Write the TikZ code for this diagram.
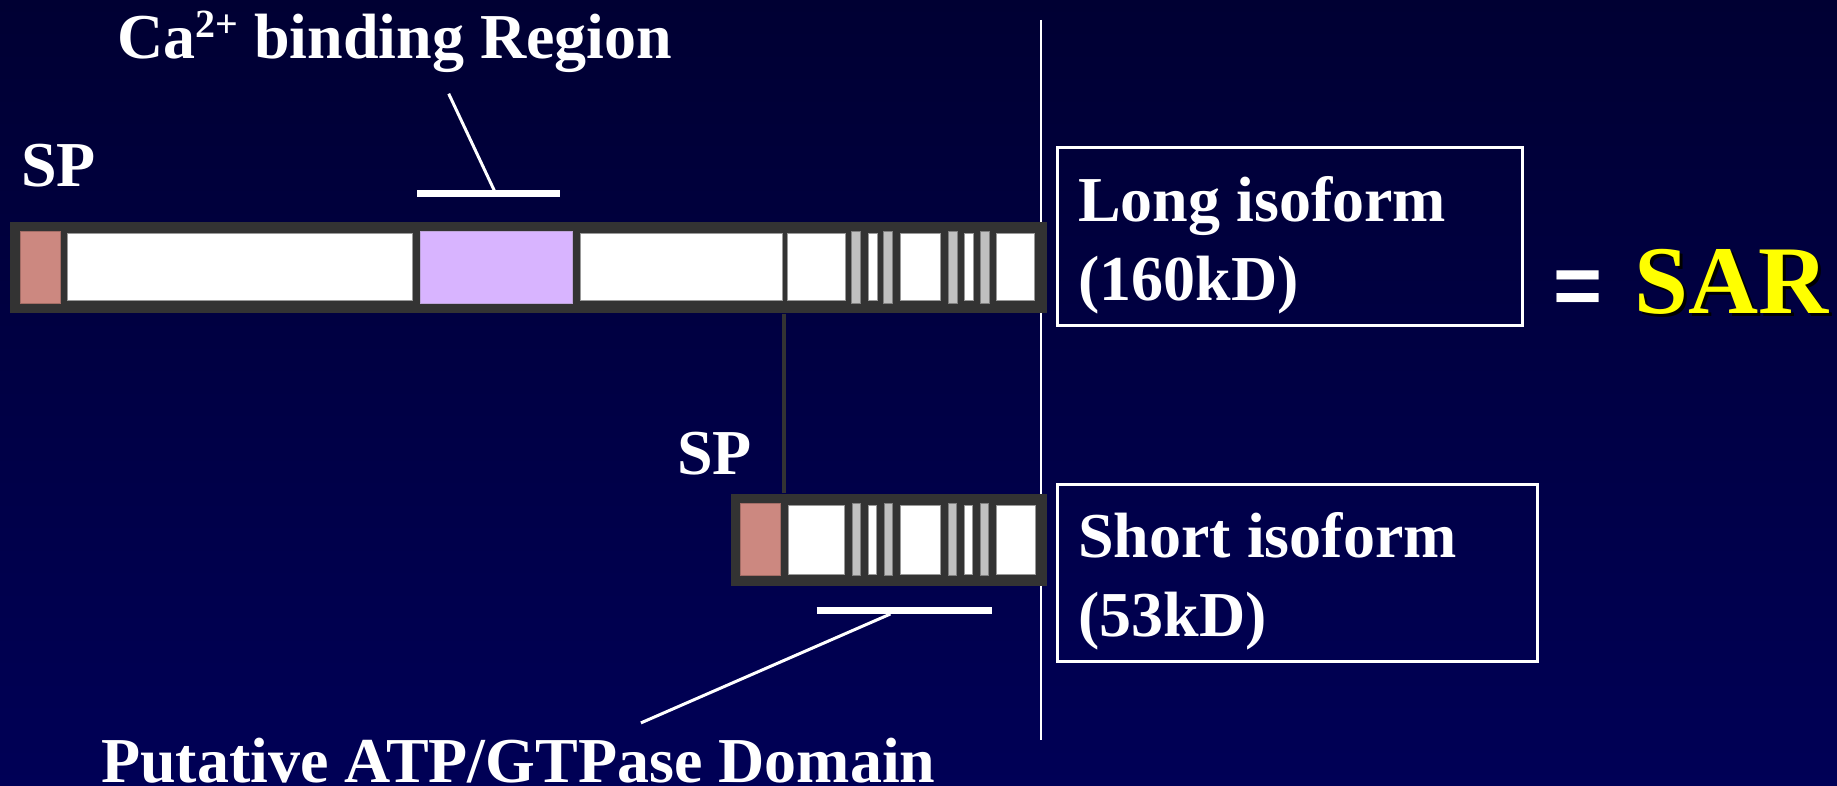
\documentclass[tikz,border=0pt]{standalone}
\usepackage{fontspec}
\setmainfont{Liberation Serif}
\newfontfamily\eqfont{Liberation Sans}
\definecolor{bgtop}{RGB}{0,0,51}
\definecolor{bgbot}{RGB}{0,0,86}
\definecolor{bardark}{RGB}{51,51,51}
\definecolor{sppink}{RGB}{204,136,128}
\definecolor{capurple}{RGB}{216,180,255}
\definecolor{tmgray}{RGB}{192,192,192}
\definecolor{saryellow}{RGB}{255,255,0}
\begin{document}
\begin{tikzpicture}[x=1pt,y=-1pt,
  lbl/.style={text=white, font=\bfseries\fontsize{64}{64}\selectfont, inner sep=0pt, anchor=base west},
  bigl/.style={font=\bfseries\fontsize{97}{97}\selectfont, inner sep=0pt, anchor=base west},
  barbox/.style={fill=bardark, draw=none, inner sep=0pt, anchor=north west},
  isobox/.style={draw=white, line width=3pt, fill=none, inner sep=0pt, anchor=north west},
  wseg/.style={fill=white, draw=gray!80, line width=1pt},
  pseg/.style={fill=sppink, draw=sppink!80!black, line width=1pt},
  cseg/.style={fill=capurple, draw=capurple!70!gray, line width=1pt},
  gseg/.style={fill=tmgray, draw=gray, line width=1pt},
  brk/.style={draw=white, line width=7pt},
  lead/.style={draw=white, line width=3pt},
  conn/.style={draw=bardark, line width=4pt}]
% background
\fill[top color=bgtop, bottom color=bgbot] (0,0) rectangle (1837,786);
\useasboundingbox (0,0) rectangle (1837,786);
% divider
\coordinate (vtop) at (1040.5,20);
\coordinate (vbot) at (1040.5,740);
\draw[white, line width=2pt] (vtop) -- (vbot);
% long bar
\node[barbox, minimum width=1036.6pt, minimum height=91.6pt] (longbar) at (10.1,221.7) {};
\filldraw[pseg] (20.3,231.7) rectangle (60.9,303.3);
\filldraw[wseg] (67.6,233.3) rectangle (412.4,301);
\filldraw[cseg] (420.6,231.7) rectangle (572.7,303.3);
\filldraw[wseg] (580,233.3) rectangle (782.3,301);
\filldraw[wseg] (787.7,233.3) rectangle (845.2,301);
\filldraw[gseg] (851.9,231.7) rectangle (860.7,303.3);
\filldraw[wseg] (868.2,233.3) rectangle (877.6,301);
\filldraw[gseg] (883.7,231.7) rectangle (892.5,303.3);
\filldraw[wseg] (900.6,233.3) rectangle (940.5,301);
\filldraw[gseg] (948.6,231.7) rectangle (957.4,303.3);
\filldraw[wseg] (964.2,233.3) rectangle (973.6,301);
\filldraw[gseg] (980.4,231.7) rectangle (989.2,303.3);
\filldraw[wseg] (996,233.3) rectangle (1034.5,301);
% short bar
\node[barbox, minimum width=316pt, minimum height=92.7pt] (shortbar) at (730.7,493.3) {};
\filldraw[pseg] (740,503.3) rectangle (780.7,575.7);
\filldraw[wseg] (788.3,505.7) rectangle (844.3,574);
\filldraw[gseg] (852.3,503.3) rectangle (860.7,575.7);
\filldraw[wseg] (868.3,505.7) rectangle (876.7,574);
\filldraw[gseg] (884.3,503.3) rectangle (892.7,575.7);
\filldraw[wseg] (900,505.7) rectangle (940.7,574);
\filldraw[gseg] (948.3,503.3) rectangle (956.7,575.7);
\filldraw[wseg] (964.3,505.7) rectangle (972.7,574);
\filldraw[gseg] (980,503.3) rectangle (988.7,575.7);
\filldraw[wseg] (996,505.7) rectangle (1035,574);
% connector between isoforms
\coordinate (cx) at (783.6,400);
\draw[conn] (cx |- longbar.south) -- (cx |- shortbar.north);
% Ca binding bracket
\coordinate (cal) at (417,193.3);
\coordinate (car) at (560,193.3);
\coordinate (cafoot) at (495.6,193.3);
\coordinate (catop) at (448.7,93.7);
\draw[brk] (cal) -- (car);
\draw[lead] (catop) -- (cafoot);
% ATP bracket
\coordinate (atl) at (816.6,610.4);
\coordinate (atr) at (992.3,610.4);
\coordinate (atfoot) at (890.4,614);
\coordinate (atend) at (640.9,722.9);
\draw[brk] (atl) -- (atr);
\draw[lead] (atfoot) -- (atend);
% labels
\node[lbl] (calbl) at (117,58.6) {Ca\raisebox{21pt}{\fontsize{40}{40}\selectfont 2+} binding Region};
\node[lbl] (sp1) at (21,187) {SP};
\node[lbl] (sp2) at (677,474.5) {SP};
\node[lbl] (atplbl) at (101,782) {Putative ATP/GTPase Domain};
% isoform boxes
\node[isobox, minimum width=465pt, minimum height=178pt] (longbox) at (1056,146.5) {};
\node[isobox, minimum width=480pt, minimum height=177pt] (shortbox) at (1056,482.7) {};
\node[lbl] (long1) at (1078,221.5) {Long isoform};
\node[lbl] (long2) at (1078,301) {(160kD)};
\node[lbl] (short1) at (1078,557.7) {Short isoform};
\node[lbl] (short2) at (1078,636) {(53kD)};
% = SAR
\node[inner sep=0pt, anchor=base west, text=white, font=\eqfont\bfseries\fontsize{84}{84}\selectfont] (eq) at (1553,315) {=};
\node[bigl, text=black] (sarsh) at (1637,316.5) {SAR};
\node[bigl, text=saryellow] (sar) at (1634,313.5) {SAR};
\end{tikzpicture}
\end{document}
